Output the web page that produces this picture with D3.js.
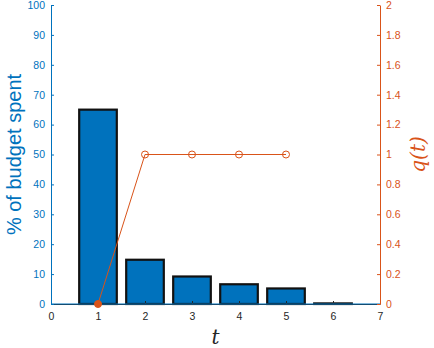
<!DOCTYPE html>
<html>
<head>
<meta charset="utf-8">
<script src="https://cdn.jsdelivr.net/npm/d3@7"></script>
<style>
  body { margin: 0; background: #fff; }
  text { font-family: "Liberation Sans", Arial, sans-serif; }
</style>
</head>
<body>
<div id="chart"></div>
<script>
// data
var steps = [1, 2, 3, 4, 5, 6];
var budgetSpent = [65, 14.8, 9.2, 6.6, 5.2, 0.2];
var qSteps = [1, 2, 3, 4, 5];
var qValues = [0, 1, 1, 1, 1];
var leftTicks = [0, 10, 20, 30, 40, 50, 60, 70, 80, 90, 100];
var rightTicks = [0, 0.2, 0.4, 0.6, 0.8, 1, 1.2, 1.4, 1.6, 1.8, 2];
var xTicks = [0, 1, 2, 3, 4, 5, 6, 7];

var blue = "#0072BD", orange = "#D95319", gray = "#262626";

var W = 434, H = 348;
var margin = { top: 5, right: 54, bottom: 44, left: 51 },
    width = W - margin.left - margin.right,
    height = H - margin.top - margin.bottom;

var svg = d3.select("#chart").append("svg")
    .attr("width", W).attr("height", H)
    .append("g")
    .attr("transform", "translate(" + margin.left + "," + margin.top + ")");

var x = d3.scaleLinear().domain([0, 7]).range([0, width]);
var yL = d3.scaleLinear().domain([0, 100]).range([height, 0]);
var yR = d3.scaleLinear().domain([0, 2]).range([height, 0]);

// bars
var bw = x(0.8) - x(0);
svg.append("g").selectAll("rect")
    .data(steps)
    .enter().append("rect")
    .attr("x", (d) => x(d) - bw / 2)
    .attr("y", (d, i) => yL(budgetSpent[i]))
    .attr("width", bw)
    .attr("height", (d, i) => yL(0) - yL(budgetSpent[i]))
    .attr("fill", blue)
    .attr("stroke", "#111")
    .attr("stroke-width", 2.2);

// x axis
var xAxis = svg.append("g")
    .attr("transform", "translate(0," + height + ")")
    .call(d3.axisBottom(x).tickValues(xTicks).tickSize(-3).tickPadding(9).tickSizeOuter(0)
        .tickFormat(d3.format("d")));
xAxis.select(".domain").attr("stroke", gray);
xAxis.selectAll(".tick line").attr("stroke", gray);
xAxis.selectAll("text").attr("fill", gray).style("font-size", "10.5px");

// baseline of bars
svg.append("line")
    .attr("x1", 0).attr("x2", width)
    .attr("y1", yL(0)).attr("y2", yL(0))
    .attr("stroke", blue).attr("stroke-width", 1);

// left axis
var left = svg.append("g")
    .call(d3.axisLeft(yL).tickValues(leftTicks).tickSize(-3).tickPadding(6).tickSizeOuter(0));
left.select(".domain").attr("stroke", blue);
left.selectAll(".tick line").attr("stroke", blue);
left.selectAll("text").attr("fill", blue).style("font-size", "10.5px");

// right axis
var right = svg.append("g")
    .attr("transform", "translate(" + width + ",0)")
    .call(d3.axisRight(yR).tickValues(rightTicks).tickSize(-3).tickPadding(6).tickSizeOuter(0)
        .tickFormat(d3.format("~g")));
right.select(".domain").attr("stroke", orange);
right.selectAll(".tick line").attr("stroke", orange);
right.selectAll("text").attr("fill", orange).style("font-size", "10.5px");

// q(t) line
var line = d3.line()
    .x((d, i) => x(qSteps[i]))
    .y((d) => yR(d));
svg.append("path")
    .datum(qValues)
    .attr("fill", "none")
    .attr("stroke", orange)
    .attr("stroke-width", 1)
    .attr("d", line);

svg.append("g").selectAll("circle")
    .data(qValues)
    .enter().append("circle")
    .attr("cx", (d, i) => x(qSteps[i]))
    .attr("cy", (d) => yR(d))
    .attr("r", 3.5)
    .attr("fill", (d, i) => i === 0 ? orange : "none")
    .attr("stroke", orange)
    .attr("stroke-width", 1);

// labels
svg.append("text")
    .attr("transform", "translate(" + (-margin.left + 21) + "," + (height / 2) + ") rotate(-90)")
    .attr("text-anchor", "middle")
    .attr("fill", blue)
    .style("font-size", "20px")
    .text("% of budget spent");

svg.append("text")
    .attr("transform", "translate(" + (width + 45) + "," + (height / 2) + ") rotate(-90)")
    .attr("text-anchor", "middle")
    .attr("fill", orange)
    .style("font-family", "'DejaVu Serif', serif")
    .style("font-style", "italic")
    .style("font-size", "20px")
    .text("q(t)");

svg.append("text")
    .attr("x", width / 2)
    .attr("y", height + 40)
    .attr("text-anchor", "middle")
    .attr("fill", gray)
    .style("font-family", "'DejaVu Serif', serif")
    .style("font-style", "italic")
    .style("font-size", "20px")
    .text("t");
</script>
</body>
</html>
